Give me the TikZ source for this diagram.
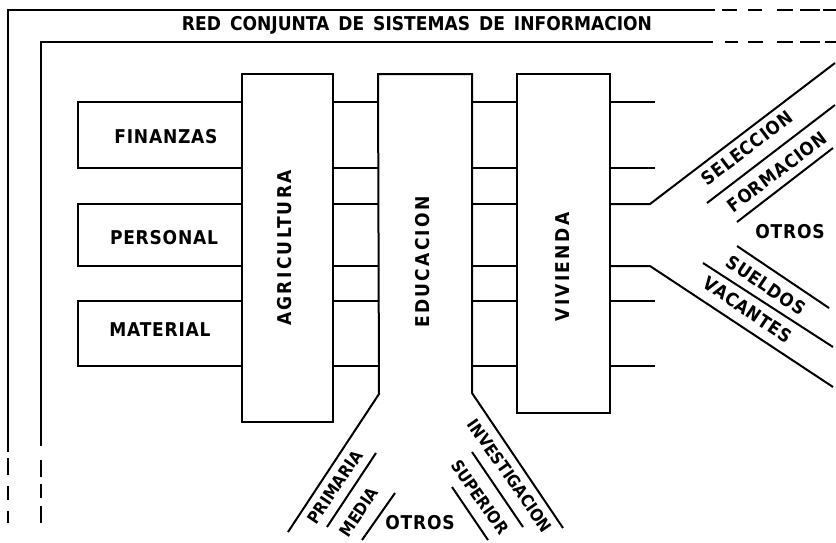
\documentclass[tikz,border=0pt]{standalone}
\usepackage{fontspec}
\newfontfamily\lblfont[LetterSpace=4]{DejaVu Sans Condensed Bold}
\newfontfamily\colfont[LetterSpace=12]{DejaVu Sans Condensed Bold}
\newfontfamily\ttlfont{DejaVu Sans Condensed Bold}
\begin{document}
\begin{tikzpicture}[x=1pt,y=-1pt,line width=2pt,line join=miter,
  box/.style={draw,rectangle,inner sep=0pt},
  lbl/.style={inner sep=0pt,font=\lblfont\fontsize{19}{20}\selectfont},
  rlbl/.style={inner sep=0pt,font=\lblfont\fontsize{18.3}{20}\selectfont},
  blbl/.style={inner sep=0pt,font=\ttlfont\fontsize{16.8}{18}\selectfont},
  collbl/.style={inner sep=0pt,rotate=90,font=\colfont\fontsize{19}{20}\selectfont},
  ttl/.style={inner sep=0pt,font=\ttlfont\fontsize{19}{20}\selectfont}]
\useasboundingbox (0,0) rectangle (836,542);
% frames
\draw (8,452) -- (8,10) -- (715,10);
\draw (41,446) -- (41,42) -- (713,42);
\foreach \a/\b in {722/737,748/762,777/793,800/820,823/836} \draw (\a,10) -- (\b,10);
\foreach \a/\b in {725/738,748/763,777/793,800/820,825/836} \draw (\a,42) -- (\b,42);
\foreach \a/\b in {458/475,486/500,511/523} \draw (8,\a) -- (8,\b);
\foreach \a/\b in {460/477,484/498,506/523} \draw (41,\a) -- (41,\b);
\node[ttl] (title) at (417,25) {RED\hspace{9pt}CONJUNTA\hspace{9pt}DE\hspace{9pt}SISTEMAS\hspace{9pt}DE\hspace{9pt}INFORMACION};
% left boxes
\node[box,minimum width=164pt,minimum height=66pt] (finb) at (160,135) {};
\node[box,minimum width=164pt,minimum height=62pt] (perb) at (160,235) {};
\node[box,minimum width=164pt,minimum height=65pt] (matb) at (160,333.5) {};
\node[lbl] (fin) at (166,137) {FINANZAS};
\node[lbl] (per) at (164,238) {PERSONAL};
\node[lbl] (mat) at (160,330) {MATERIAL};
% columns
\node[box,minimum width=91pt,minimum height=348pt] (agr) at (287.5,248) {};
\node[box,minimum width=93pt,minimum height=339pt] (viv) at (563.5,243.5) {};
\coordinate (eA) at (288,532);
\coordinate (eB) at (379,394);
\coordinate (eC) at (378,74);
\coordinate (eD) at (472,74);
\coordinate (eE) at (472,393);
\coordinate (eF) at (563,528);
\draw (eA) -- (eB) -- (eC) -- (eD) -- (eE) -- (eF);
\node[collbl] (agrt) at (285,248) {AGRICULTURA};
\node[collbl] (edut) at (423,262) {EDUCACION};
\node[collbl] (vivt) at (563,267) {VIVIENDA};
% cross links
\foreach \y in {102,168,204,266,301,366} {
  \draw (agr.east |- 0,\y) -- (eC |- 0,\y);
  \draw (eD |- 0,\y) -- (viv.west |- 0,\y);
}
\foreach \y in {102,168,301,366} \draw (viv.east |- 0,\y) -- (655,\y);
% right fan
\coordinate (rT) at (835,63);
\coordinate (rB) at (833,387);
\draw (viv.east |- 0,204) -- (650,204) -- (rT);
\draw (viv.east |- 0,266) -- (650,266) -- (rB);
\draw (707,203) -- (835,105);
\draw (737,222) -- (833,148);
\draw (737,246) -- (829,308);
\draw (703,263) -- (833,347);
\node[rlbl,rotate=37] (sel) at (747,148) {SELECCION};
\node[rlbl,rotate=37] (form) at (777,172) {FORMACION};
\node[lbl] (otr1) at (790,232) {OTROS};
\node[rlbl,rotate=-34] (sue) at (766,285) {SUELDOS};
\node[rlbl,rotate=-34] (vac) at (748,310) {VACANTES};
% bottom fan
\draw (376,453) -- (327,527);
\draw (395,493) -- (362,540);
\draw (472,452) -- (523,527);
\draw (452,487) -- (488,540);
\node[blbl,rotate=56] (pri) at (335,487) {PRIMARIA};
\node[blbl,rotate=56] (med) at (359,512) {MEDIA};
\node[lbl] (otr2) at (420,523) {OTROS};
\node[blbl,rotate=-55] (sup) at (480,497) {SUPERIOR};
\node[blbl,rotate=-55] (inv) at (510,476) {INVESTIGACION};
\end{tikzpicture}
\end{document}
